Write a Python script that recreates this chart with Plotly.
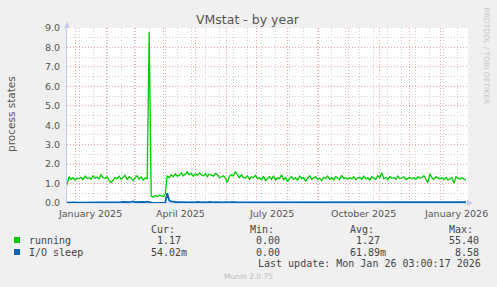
import pandas as pd
import plotly.graph_objects as go

# ---------------- data ----------------
start_date = "2024-12-24"
step_days = 2

running = [
    0.92, 1.35, 1.22, 1.30, 1.18, 1.28, 1.25,
    1.32, 1.20, 1.38, 1.26, 1.30, 1.22, 1.40, 1.28, 1.33, 1.25, 1.45, 1.30, 1.27, 1.35,
    1.15, 1.05, 1.20, 1.30, 1.25, 1.38, 1.22, 1.30, 1.42,
    1.20, 1.35, 1.28, 1.15, 1.30, 1.40, 1.22, 1.33, 1.18, 1.30, 1.25,
    8.80,
    0.35, 0.30, 0.38, 0.33, 0.40, 0.36, 0.34, 0.45,
    1.40, 1.30, 1.45, 1.35, 1.50, 1.38, 1.42, 1.55, 1.40, 1.48, 1.60, 1.45, 1.52, 1.38, 1.50, 1.42, 1.55,
    1.45, 1.40, 1.50, 1.35, 1.48, 1.42, 1.38, 1.52, 1.45, 1.30,
    1.35, 1.40, 1.28, 1.05, 1.38, 1.45, 1.40, 1.62, 1.45, 1.30,
    1.45, 1.30, 1.28, 1.40, 1.22, 1.35, 1.30, 1.42, 1.25,
    1.30, 1.20, 1.38, 1.15, 1.28, 1.35, 1.22, 1.40, 1.18, 1.30,
    1.25, 1.45, 1.20, 1.32, 1.10, 1.28, 1.35, 1.22, 1.30, 1.18,
    1.38, 1.25, 1.30, 1.12, 1.28, 1.40, 1.22, 1.30, 1.35, 1.20,
    1.28, 1.15, 1.32, 1.25, 1.38, 1.22, 1.30, 1.18, 1.35, 1.28,
    1.20, 1.42, 1.25, 1.30, 1.22,
    1.30, 1.25, 1.35, 1.20, 1.28, 1.32, 1.22, 1.38, 1.25, 1.30,
    1.18, 1.35, 1.28, 1.22, 1.40, 1.30, 1.55, 1.25, 1.32, 1.20,
    1.35, 1.28, 1.30, 1.22, 1.38, 1.25, 1.30, 1.35, 1.20, 1.28,
    1.32, 1.25, 1.30, 1.22, 1.35, 1.28, 1.30, 1.40, 1.25, 1.05,
    1.50, 1.30, 1.22, 1.35, 1.28, 1.25, 1.30, 1.20, 1.32, 1.18,
    1.25, 1.30, 1.02, 1.35, 1.28, 1.22, 1.30, 1.25, 1.17,
]

io_sleep = [
    0.02, 0.03, 0.02, 0.02, 0.03, 0.02, 0.02, 0.03, 0.02, 0.02,
    0.03, 0.02, 0.02, 0.04, 0.02, 0.02, 0.03, 0.02, 0.02, 0.03,
    0.02, 0.02, 0.03, 0.02, 0.02, 0.03, 0.02, 0.04,
    0.06, 0.05, 0.07, 0.05, 0.06, 0.08, 0.05, 0.06, 0.07, 0.05, 0.06, 0.05, 0.07, 0.04,
    0.005, 0.005, 0.005, 0.005, 0.005, 0.005, 0.005, 0.005,
    0.50,
    0.12, 0.08, 0.06, 0.05, 0.04, 0.05, 0.04, 0.03, 0.04, 0.03,
    0.03, 0.04, 0.03, 0.03, 0.05, 0.03, 0.03, 0.04, 0.03, 0.03,
    0.06, 0.03, 0.03, 0.04, 0.03, 0.05, 0.03, 0.03, 0.04, 0.03,
    0.03, 0.05, 0.03, 0.04, 0.03, 0.03, 0.06, 0.03, 0.03, 0.04,
    0.03, 0.03, 0.05, 0.03, 0.04, 0.03, 0.03, 0.05, 0.03, 0.03,
    0.04, 0.03, 0.06, 0.03, 0.03, 0.04, 0.03, 0.05, 0.03, 0.03,
    0.03, 0.04, 0.03, 0.05, 0.03, 0.03, 0.04, 0.03, 0.06, 0.03,
    0.03, 0.04, 0.03, 0.03, 0.05, 0.03, 0.04, 0.03, 0.03, 0.05,
    0.03, 0.03, 0.04, 0.03, 0.06, 0.03, 0.03, 0.04, 0.03, 0.03,
    0.05, 0.03, 0.04, 0.03, 0.03, 0.05, 0.03, 0.03, 0.04, 0.03,
    0.03, 0.06, 0.03, 0.04, 0.03, 0.03, 0.05, 0.03, 0.03, 0.04,
    0.03, 0.03, 0.05, 0.03, 0.04, 0.03, 0.03, 0.06, 0.03, 0.03,
    0.04, 0.03, 0.05, 0.03, 0.03, 0.04, 0.03, 0.03, 0.05, 0.03,
    0.03, 0.04, 0.03, 0.06, 0.03, 0.03, 0.04, 0.03, 0.05, 0.03,
    0.03, 0.04, 0.03, 0.05, 0.03, 0.03, 0.04, 0.03, 0.05,
]

series_names = ["running", "I/O sleep"]
series_colors = ["#00CC00", "#0066B3"]
stat_headers = ["Cur:", "Min:", "Avg:", "Max:"]
stats_running = ["1.17", "0.00", "1.27", "55.40"]
stats_io = ["54.02m", "0.00", "61.89m", "8.58"]
x_tick_labels = ["January 2025", "April 2025", "July 2025", "October 2025", "January 2026"]
x_tick_label_dates = ["2025-01-16", "2025-04-16", "2025-07-16", "2025-10-16", "2026-01-16"]
title = "VMstat - by year"
y_title = "process states"
last_update = "Last update: Mon Jan 26 03:00:17 2026"
footer = "Munin 2.0.75"
side_text = "RRDTOOL / TOBI OETIKER"

# ---------------- layout geometry ----------------
W, H = 497, 287
L, R, T, B = 67, 468, 28, 203
PW, PH = R - L, B - T


def px(x):
    return (x - L) / PW


def py(y):
    return (B - y) / PH


dates = pd.date_range(start_date, periods=len(running), freq=f"{step_days}D")
dates_io = pd.date_range(start_date, periods=len(io_sleep), freq=f"{step_days}D")

fig = go.Figure()
fig.add_trace(go.Scatter(x=dates, y=running, mode="lines", name=series_names[0],
                         line=dict(color=series_colors[0], width=1.3)))
fig.add_trace(go.Scatter(x=dates_io, y=io_sleep, mode="lines", name=series_names[1],
                         line=dict(color=series_colors[1], width=1.8)))

month_starts = pd.date_range("2025-01-01", "2026-01-01", freq="MS")
minor_vals = pd.date_range("2025-01-05", "2026-01-27", freq="14D")

major_grid = "#eba3a3"
minor_grid = "#cfcfcf"
axis_col = "#c4cbf2"
dotdash = "1px,2px"

fig.update_layout(
    width=W, height=H,
    margin=dict(l=L, r=W - R, t=T, b=H - B),
    paper_bgcolor="#F0F0F0", plot_bgcolor="#FFFFFF",
    showlegend=False,
    font=dict(family="DejaVu Sans", color="#555555", size=10),
    xaxis=dict(
        type="date",
        range=["2024-12-24", "2026-01-28"],
        tickmode="array", tickvals=list(month_starts), showticklabels=False,
        showgrid=True, gridcolor=major_grid, griddash=dotdash, gridwidth=1,
        minor=dict(tickmode="array", tickvals=list(minor_vals), showgrid=True,
                   gridcolor=minor_grid, griddash=dotdash, gridwidth=1, ticks=""),
        ticks="", zeroline=False, showline=False, layer="below traces",
    ),
    yaxis=dict(
        range=[0, 9], tickmode="linear", tick0=0, dtick=1, tickformat=".1f",
        showgrid=True, gridcolor=major_grid, griddash=dotdash, gridwidth=1,
        minor=dict(tickmode="linear", tick0=0, dtick=0.5, showgrid=True,
                   gridcolor=minor_grid, griddash=dotdash, gridwidth=1, ticks=""),
        ticks="", ticklen=0, zeroline=False,
        showline=True, linecolor=axis_col, linewidth=1,
        tickfont=dict(size=9.5, color="#555555"),
        ticklabelstandoff=4,
        layer="below traces",
    ),
)

shapes = []
# x axis baseline
shapes.append(dict(type="line", xref="paper", yref="paper", x0=0, x1=px(R + 2), y0=0, y1=0,
                   line=dict(color=axis_col, width=1), layer="below"))
# arrows
shapes.append(dict(type="path", xref="paper", yref="paper",
                   path=f"M {px(L-3)} {py(T)} L {px(L+3)} {py(T)} L {px(L)} {py(T-6)} Z",
                   fillcolor=axis_col, line=dict(color=axis_col, width=0)))
shapes.append(dict(type="path", xref="paper", yref="paper",
                   path=f"M {px(R-1)} {py(B-3)} L {px(R-1)} {py(B+3)} L {px(R+5)} {py(B)} Z",
                   fillcolor=axis_col, line=dict(color=axis_col, width=0)))
# legend squares
for i, c in enumerate(series_colors):
    yc = 240 + 12 * i
    shapes.append(dict(type="rect", xref="paper", yref="paper",
                       x0=px(14), x1=px(20), y0=py(yc + 3), y1=py(yc - 3),
                       fillcolor=c, line=dict(color=c, width=0)))
fig.update_layout(shapes=shapes)

ann = []
# x tick labels
for d, t in zip(x_tick_label_dates, x_tick_labels):
    ann.append(dict(x=d, y=py(213), xref="x", yref="paper", text=t, showarrow=False,
                    xanchor="center", yanchor="middle",
                    font=dict(size=9.5, color="#555555")))
# title
ann.append(dict(x=px(248), y=py(19), xref="paper", yref="paper", text=title, showarrow=False,
                xanchor="center", yanchor="middle", font=dict(size=12.5, color="#555555")))
# y title
ann.append(dict(x=px(11), y=py(114), xref="paper", yref="paper", text=y_title, showarrow=False,
                xanchor="center", yanchor="middle", textangle=-90,
                font=dict(size=10.5, color="#555555")))
# side text
ann.append(dict(x=px(486), y=py(5), xref="paper", yref="paper", text=side_text, showarrow=False,
                xanchor="center", yanchor="top", textangle=90,
                font=dict(size=7.5, color="#c8c8c8")))

mono = "DejaVu Sans Mono"
txt_col = "#444444"
col_starts = [149, 248, 348, 447]
for cx, h in zip(col_starts, stat_headers):
    ann.append(dict(x=px(cx), y=py(229), xref="paper", yref="paper", text=h, showarrow=False,
                    xanchor="left", yanchor="middle", font=dict(family=mono, size=10, color=txt_col)))

char_w = 6.02
for row, (name, stats) in enumerate(zip(series_names, [stats_running, stats_io])):
    yc = 240 + 12 * row
    ann.append(dict(x=px(27), y=py(yc), xref="paper", yref="paper", text=name, showarrow=False,
                    xanchor="left", yanchor="middle", font=dict(family=mono, size=10, color=txt_col)))
    for cx, s in zip(col_starts, stats):
        num = s.rstrip("m")
        offset = (5 - len(num)) * char_w
        ann.append(dict(x=px(cx + offset), y=py(yc), xref="paper", yref="paper", text=s,
                        showarrow=False, xanchor="left", yanchor="middle",
                        font=dict(family=mono, size=10, color=txt_col)))

ann.append(dict(x=px(483), y=py(263), xref="paper", yref="paper", text=last_update, showarrow=False,
                xanchor="right", yanchor="middle", font=dict(family=mono, size=10, color=txt_col)))
ann.append(dict(x=px(248), y=py(276), xref="paper", yref="paper", text=footer, showarrow=False,
                xanchor="center", yanchor="middle", font=dict(size=7.5, color="#bbbbbb")))

fig.update_layout(annotations=ann)

fig.write_html("out.html")
